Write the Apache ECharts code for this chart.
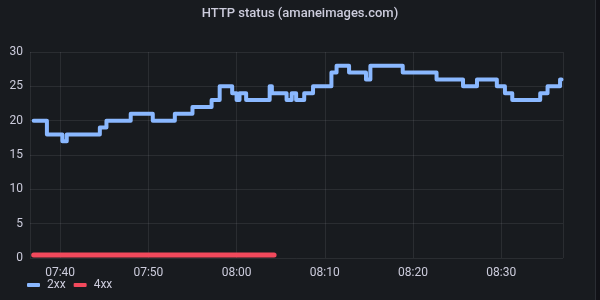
<!DOCTYPE html>
<html>
<head>
<meta charset="utf-8">
<script src="https://cdn.jsdelivr.net/npm/echarts@6/dist/echarts.min.js"></script>
<style>
html,body{margin:0;padding:0;background:#111217;}
#wrap{position:absolute;left:0;top:0;width:595px;height:300px;background:#181b1f;border-right:1px solid #2a2d33;}
#chart{width:600px;height:300px;position:absolute;left:0;top:0;}
</style>
</head>
<body>
<div id="wrap"></div>
<div id="chart"></div>
<script>
const DAY = '2024-01-01 ';
const titleText = 'HTTP status (amaneimages.com)';
const seriesNames = ['2xx', '4xx'];
const okTimes = ['07:37:00','07:38:30','07:40:15','07:40:45','07:44:30','07:45:15','07:48:00','07:50:30','07:53:00','07:55:00','07:57:10','07:58:05','07:59:30','08:00:00','08:00:20','08:01:05','08:03:45','08:04:00','08:05:40','08:06:15','08:06:45','08:07:40','08:08:40','08:10:45','08:11:20','08:12:45','08:14:40','08:15:10','08:18:50','08:22:40','08:25:40','08:27:15','08:29:30','08:30:25','08:31:15','08:34:25','08:35:15','08:36:40','08:36:50'];
const okValues = [20,18,17,18,19,20,21,20,21,22,23,25,24,23,24,23,25,24,23,24,23,24,25,27,28,27,26,28,27,26,25,26,25,24,23,24,25,26,26];
const errTimes = ['07:37:00','07:45:00','07:55:00','08:04:15'];
const errValues = [0.45,0.45,0.45,0.45];
const xMin = '07:36:35';
const xMax = '08:37:00';
const yTicks = [0,5,10,15,20,25,30];

const toData = (ts, vs) => ts.map((t, i) => [DAY + t, vs[i]]);

const chart = echarts.init(document.getElementById('chart'), null, {renderer: 'canvas'});
const txt = '#ccccdc';
const font = 'Roboto';
chart.setOption({
  backgroundColor: 'transparent',
  animation: false,
  textStyle: {fontFamily: font},
  title: {
    text: titleText, left: 'center', top: 1,
    textStyle: {color: txt, fontSize: 13, fontWeight: 500, fontFamily: font, lineHeight: 16}
  },
  grid: {left: 30, right: 37, top: 52, bottom: 42, containLabel: false},
  legend: {
    left: 22, bottom: 4, itemWidth: 13, itemHeight: 4, itemGap: 8,
    icon: 'roundRect',
    textStyle: {color: txt, fontSize: 12, fontFamily: font, padding: [0, 0, 0, 2]},
    data: seriesNames
  },
  xAxis: {
    type: 'time',
    min: DAY + xMin, max: DAY + xMax,
    splitNumber: 6,
    axisLine: {show: false}, axisTick: {show: false},
    splitLine: {show: true, lineStyle: {color: 'rgba(204,204,220,0.1)', width: 1}},
    axisLabel: {color: txt, fontSize: 12, fontFamily: font, margin: 9, formatter: '{HH}:{mm}', showMinLabel: false, showMaxLabel: false, hideOverlap: true}
  },
  yAxis: {
    type: 'value', min: yTicks[0], max: yTicks[yTicks.length - 1], interval: 5,
    axisLine: {show: false}, axisTick: {show: false},
    splitLine: {lineStyle: {color: 'rgba(204,204,220,0.1)', width: 1}},
    axisLabel: {color: txt, fontSize: 12, fontFamily: font, margin: 7}
  },
  series: [
    {
      name: seriesNames[0], type: 'line', step: 'end', showSymbol: false,
      color: '#8ab8ff',
      lineStyle: {width: 4, color: '#8ab8ff', cap: 'round', join: 'round'},
      data: toData(okTimes, okValues)
    },
    {
      name: seriesNames[1], type: 'line', step: 'end', showSymbol: false,
      color: '#f2495c',
      lineStyle: {width: 5, color: '#f2495c', cap: 'round', join: 'round'},
      data: toData(errTimes, errValues)
    }
  ]
});
</script>
</body>
</html>
